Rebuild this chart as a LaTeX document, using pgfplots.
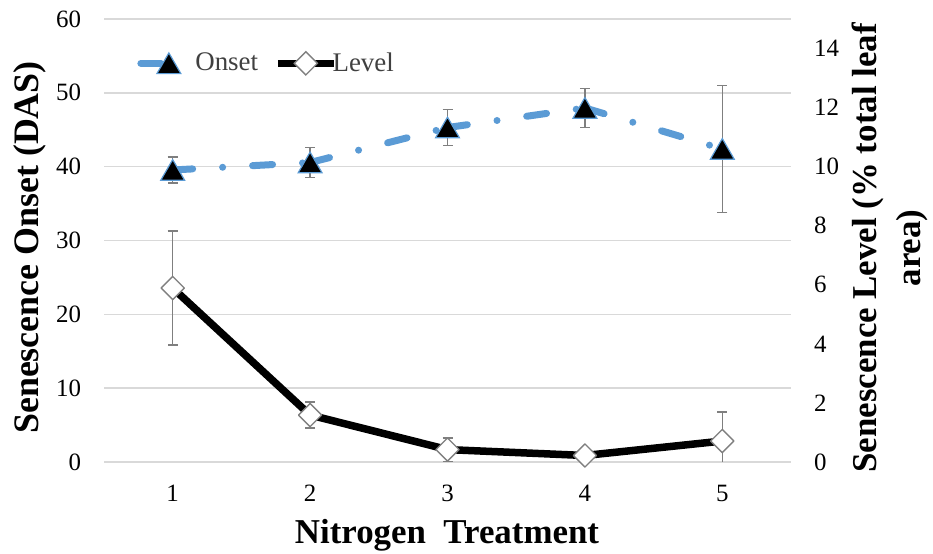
\documentclass[border=0pt]{standalone}
\usepackage{fontspec}
\setmainfont{Liberation Serif}
\usepackage{pgfplots}
\pgfplotsset{compat=1.18}
\definecolor{onsetblue}{HTML}{5B9BD5}
\definecolor{gridgray}{HTML}{D9D9D9}
\definecolor{errgray}{HTML}{7F7F7F}
\definecolor{legtext}{HTML}{404040}
\begin{document}
\begin{tikzpicture}
\path[use as bounding box] (0,0) rectangle (466.5bp,277bp);
\pgfplotsset{
  common/.style={
    scale only axis, width=343.5bp, height=221.5bp,
    at={(52bp,46bp)}, anchor=south west,
    xmin=0.5, xmax=5.5,
    axis line style={draw=none}, major tick length=0pt,
    tick label style={font=\rmfamily\fontsize{12.5}{15}\selectfont, text=black},
    /pgf/number format/assume math mode=true,
  },
  errstyle/.style={error bars/.cd, y dir=both, y explicit,
    error bar style={errgray, line width=0.75bp, solid},
    error mark options={rotate=90, mark size=2.5bp, errgray, line width=0.75bp, solid}},
  onsetline/.style={onsetblue, line width=3.5bp, line cap=round,
    dash pattern=on 10bp off 15bp on 0bp off 15bp},
  onsetmark/.style={mark=triangle*, mark size=6.9bp,
    mark options={solid, fill=black, draw=onsetblue, line width=0.6bp, yshift=-1.7bp}},
}
\begin{axis}[common,
  ymin=0, ymax=60, ytick={0,10,...,60},
  xtick={1,2,3,4,5},
  ymajorgrids, grid style={gridgray, line width=0.75bp},
  yticklabel style={xshift=-8bp}, xticklabel style={yshift=-8bp},
  unbounded coords=jump,
  legend image code/.code={\draw[mark repeat=2, mark phase=2] plot coordinates {(0bp,0bp) (14bp,0bp) (28bp,0bp)};},
  legend style={draw=none, fill=none, legend columns=2,
    at={(axis description cs:0.048,0.90)}, anchor=west, inner sep=0pt,
    font=\rmfamily\fontsize{13.5}{15}\selectfont, text=legtext,
    /tikz/every odd column/.append style={column sep=-4.5bp},
    /tikz/every even column/.append style={column sep=6bp}},
]
% Onset line, one sub-path per segment so that the dash pattern restarts at each point
\addplot[onsetline, forget plot] coordinates {
    (1,39.55) (2,40.56) (2,nan)
    (2,40.56) (3,45.30) (3,nan)
    (3,45.30) (4,47.95) (4,nan)
    (4,47.95) (5,42.40)
  };
\addplot[forget plot, only marks, onsetmark, errstyle]
  coordinates {
    (1,39.55) +- (0,1.75)
    (2,40.56) +- (0,2.05)
    (3,45.30) +- (0,2.45)
    (4,47.95) +- (0,2.65)
    (5,42.40) +- (0,8.60)
  };
\addlegendimage{onsetline, dash pattern=on 10bp off 30bp, onsetmark}
\addlegendentry{Onset}
\addlegendimage{black, line width=3.75bp, mark=square*, mark size=4.1bp,
  mark options={solid, fill=white, draw=errgray, line width=0.7bp, rotate=45}}
\addlegendentry{Level}
\end{axis}
\begin{axis}[common,
  ymin=0, ymax=15, ytick={0,2,...,14},
  xtick=\empty, yticklabel pos=right,
  yticklabel style={xshift=8bp},
]
\addplot[black, line width=3.75bp, line join=round,
  mark=square*, mark size=4.1bp,
  mark options={solid, fill=white, draw=errgray, line width=0.7bp, rotate=45},
  errstyle]
  coordinates {
    (1,5.89) +- (0,1.93)
    (2,1.59) +- (0,0.44)
    (3,0.42) +- (0,0.40)
    (4,0.22) +- (0,0.10)
    (5,0.71) +- (0,0.99)
  };
\end{axis}
\node[font=\fontsize{17.5}{22}\selectfont\bfseries] at (223.5bp,9.5bp) {Nitrogen\ \ Treatment};
\node[rotate=90, font=\fontsize{18}{22}\selectfont\bfseries] at (15bp,153.25bp) {Senescence Onset (DAS)};
\node[rotate=90, align=center, font=\fontsize{17.5}{22}\selectfont\bfseries] at (445bp,153bp) {Senescence Level (\% total leaf\\area)};
\end{tikzpicture}
\end{document}
